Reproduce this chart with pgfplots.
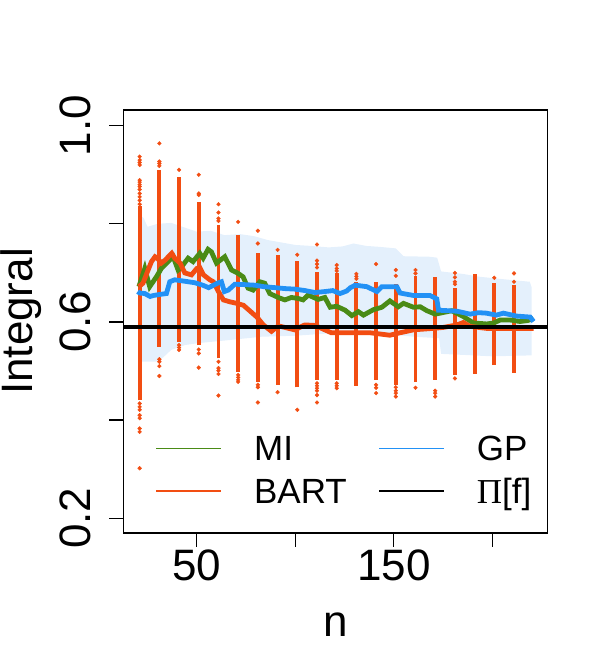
\documentclass[border=0pt]{standalone}
\usepackage{fontspec}
\setmainfont{Liberation Sans}
\newfontfamily\serifgreek{Liberation Serif}
\usepackage{pgfplots}
\pgfplotsset{compat=1.18}
\definecolor{mi}{HTML}{4A8B16}
\definecolor{bart}{HTML}{F24D12}
\definecolor{gp}{HTML}{2291F5}
\definecolor{band}{HTML}{E4F0FC}
\newcommand{\bigfont}{\fontsize{44bp}{48bp}\selectfont}
\newcommand{\legfont}{\fontsize{35bp}{40bp}\selectfont}

\begin{document}
\begin{tikzpicture}
\path[use as bounding box] (0,0) rectangle (592bp,645bp);
\begin{axis}[
  at={(123.5bp,112bp)}, anchor=south west,
  scale only axis, width=424.2bp, height=423bp,
  xmin=12.8, xmax=228.1, ymin=0.170, ymax=1.032,
  axis line style={line width=1.5bp},
  tick align=outside, xtick pos=bottom, ytick pos=left,
  major tick length=14bp,
  tick style={line width=1.3bp, black},
  xtick={50,100,150,200}, xticklabels={50,,150,},
  ytick={0.2,0.4,0.6,0.8,1.0}, yticklabels={0.2,,0.6,,1.0},
  xticklabel style={font=\bigfont, anchor=north, inner sep=0pt},
  xticklabel shift=3bp,
  yticklabel style={font=\bigfont, rotate=90, anchor=south, inner sep=0pt},
  yticklabel shift=18bp,
  xlabel={n}, ylabel={Integral},
  xlabel style={font=\bigfont, at={([yshift=-103.7bp]axis description cs:0.5,0)}, anchor=base, inner sep=0pt},
  ylabel style={font=\bigfont, at={([xshift=-90.5bp]axis description cs:0,0.5)}, anchor=base, inner sep=0pt},
  legend columns=2, legend cell align=left,
  legend style={draw=none, fill=none, inner sep=0pt, outer sep=0pt,
    at={(axis description cs:0.0759,0.2298)}, anchor=north west,
    row sep=17.7bp, font=\legfont,
    nodes={inner sep=0pt, text height=25bp, text depth=0pt},
    /tikz/every odd column/.append style={column sep=32bp},
    /tikz/every even column/.append style={column sep=31.7bp}},
  legend image code/.code={\draw[#1] (0bp,0bp) -- (65bp,0bp);},
]
\addlegendimage{mi, line width=1.4bp}
\addlegendentry{MI}
\addlegendimage{gp, line width=1.4bp}
\addlegendentry{GP}
\addlegendimage{bart, line width=1.4bp}
\addlegendentry{BART}
\addlegendimage{black, line width=1.4bp}
\addlegendentry{{\serifgreek Π}[f]}

% GP credible band
\addplot[fill=band, draw=none, forget plot] coordinates {
(21,0.818) (23,0.812) (25,0.794) (30,0.800) (37,0.802) (42,0.795) (50,0.784)
(57,0.786) (64,0.777) (72,0.779) (79,0.775) (86,0.767) (93,0.762) (100,0.757)
(108,0.755) (117,0.752) (124,0.754) (129.5,0.760) (136,0.755) (143,0.753)
(151,0.750) (155,0.734) (168,0.733) (172,0.731) (174,0.703) (185,0.698)
(194,0.692) (206,0.687) (219,0.682) (220,0.670)
(220,0.532) (200,0.530) (185,0.533) (174,0.535) (173,0.567) (160,0.570)
(150,0.574) (130,0.576) (118,0.577) (100,0.572) (83,0.570) (66,0.563)
(51,0.557) (44,0.553) (37,0.543) (33,0.528) (30,0.519) (21,0.519)};

% BART posterior draws: dense part of each column
\addplot[bart, line width=3.9bp, unbounded coords=jump, forget plot] coordinates {
(21,0.441) (21,0.836) (21,nan)
(31,0.550) (31,0.910) (31,nan)
(41,0.560) (41,0.896) (41,nan)
(51,0.553) (51,0.845) (51,nan)
(61,0.526) (61,0.798) (61,nan)
(71,0.499) (71,0.777) (71,nan)
(81,0.478) (81,0.740) (81,nan)
(91,0.472) (91,0.737) (91,nan)
(101,0.467) (101,0.725) (101,nan)
(111,0.482) (111,0.702) (111,nan)
(121,0.482) (121,0.699) (121,nan)
(131,0.470) (131,0.682) (131,nan)
(141,0.482) (141,0.682) (141,nan)
(151,0.472) (151,0.677) (151,nan)
(161,0.478) (161,0.694) (161,nan)
(171,0.482) (171,0.691) (171,nan)
(181,0.492) (181,0.669) (181,nan)
(191,0.495) (191,0.698) (191,nan)
(201,0.512) (201,0.679) (201,nan)
(211,0.497) (211,0.675)};

% BART posterior draws: sparse tails
\addplot[only marks, mark=*, mark size=1.9bp, bart, forget plot] coordinates {
(21,0.937) (21,0.930) (21,0.925) (21,0.920) (21,0.889) (21,0.885) (21,0.880)
(21,0.876) (21,0.870) (21,0.862) (21,0.855) (21,0.848) (21,0.840)
(21,0.434) (21,0.427) (21,0.421) (21,0.410) (21,0.404) (21,0.383) (21,0.376) (21,0.302)
(31,0.964) (31,0.927) (31,0.923) (31,0.918) (31,0.524) (31,0.519) (31,0.510) (31,0.490)
(41,0.910) (41,0.553) (41,0.548) (41,0.543)
(51,0.900) (51,0.862) (51,0.859) (51,0.544) (51,0.536) (51,0.507)
(61,0.840) (61,0.823) (61,0.811) (61,0.806) (61,0.519) (61,0.506) (61,0.501) (61,0.494) (61,0.450)
(71,0.804) (71,0.492) (71,0.487) (71,0.482) (71,0.478)
(81,0.786) (81,0.760) (81,0.472) (81,0.467) (81,0.436)
(91,0.747) (91,0.457)
(101,0.737) (101,0.421)
(111,0.758) (111,0.725) (111,0.718) (111,0.711) (111,0.475) (111,0.470) (111,0.465) (111,0.460) (111,0.451) (111,0.436)
(121,0.716) (121,0.709) (121,0.704) (121,0.475) (121,0.470) (121,0.465)
(131,0.698) (131,0.693) (131,0.688)
(141,0.718) (141,0.472) (141,0.466) (141,0.455)
(151,0.706) (151,0.694) (151,0.467) (151,0.460) (151,0.455) (151,0.448)
(161,0.706) (161,0.699) (161,0.466)
(171,0.460) (171,0.455) (171,0.448)
(181,0.700) (181,0.691) (181,0.682) (181,0.677) (181,0.485)
(201,0.690)
(211,0.699) (211,0.682)};

% MI
\addplot[mi, line width=4.8bp, forget plot] coordinates {
(20.6,0.672) (23.6,0.709) (26.1,0.672) (29.5,0.692) (32,0.709) (35.4,0.723)
(38,0.733) (40.5,0.706) (42.2,0.712) (45.6,0.730) (48.1,0.723) (51.5,0.740)
(53.2,0.730) (55.7,0.748) (57.4,0.743) (60,0.720) (64.2,0.733) (67.6,0.706)
(71,0.699) (73.5,0.692) (76,0.669) (78.6,0.665) (82,0.682) (84.5,0.679)
(87,0.658) (91.3,0.650) (94.7,0.645) (98,0.650) (101.4,0.648) (104,0.645)
(106.5,0.655) (111.6,0.646) (115,0.650) (117.7,0.630) (121,0.632) (125.3,0.624)
(128.7,0.613) (132,0.621) (134.6,0.614) (139.6,0.625) (143.9,0.630) (148,0.643)
(152.3,0.631) (154.9,0.638) (160,0.630) (163.4,0.631) (166.8,0.623) (171,0.616)
(173.5,0.618) (179.4,0.623) (185.3,0.611) (190.4,0.598) (197.2,0.596)
(200.6,0.598) (204,0.604) (209,0.604) (214.1,0.601) (218,0.603) (220.9,0.607)};

% BART
\addplot[bart, line width=4.8bp, forget plot] coordinates {
(20.6,0.672) (22.7,0.679) (25.3,0.706) (27,0.723) (28.8,0.733) (30,0.730)
(32,0.720) (33.9,0.726) (36.3,0.736) (37.3,0.740) (38.8,0.730) (41.5,0.720)
(43.9,0.700) (47.3,0.696) (50,0.709) (51.5,0.711) (53.4,0.696) (56.6,0.686)
(58.4,0.682) (61,0.662) (63.5,0.645) (66.9,0.641) (70.3,0.638) (73.7,0.634)
(77.1,0.622) (80.5,0.610) (83.8,0.594) (87.9,0.581) (91.3,0.592) (94.7,0.589)
(99.7,0.584) (104.8,0.594) (109.9,0.593) (115,0.584) (118.3,0.578) (127.8,0.578)
(138,0.578) (148,0.573) (152,0.577) (160,0.584) (170,0.587) (175.2,0.589)
(182,0.594) (185.3,0.599) (188.7,0.591) (197,0.587) (205,0.587) (220.9,0.587)};

% GP
\addplot[gp, line width=4.8bp, forget plot] coordinates {
(20,0.662) (21,0.659) (23.6,0.658) (26.3,0.652) (28,0.654) (31,0.656)
(34.6,0.658) (36.3,0.682) (38.8,0.686) (44,0.683) (49,0.680) (53,0.675)
(56,0.670) (61,0.680) (62.5,0.682) (64,0.662) (66,0.665) (69.3,0.677)
(75,0.676) (79.4,0.675) (84,0.672) (89.6,0.670) (95,0.668) (99.7,0.667)
(105,0.664) (110,0.660) (115,0.662) (119,0.664) (122.7,0.658) (126,0.663)
(128,0.670) (130.4,0.675) (136.3,0.672) (141.4,0.662) (143.9,0.672)
(151.5,0.672) (153.2,0.659) (160,0.654) (168.4,0.654) (171.8,0.647)
(172.7,0.624) (182,0.622) (188.7,0.616) (193,0.619) (197,0.618) (202,0.614)
(205.6,0.618) (212.4,0.612) (219.2,0.610) (220.9,0.601)};

% true value
\addplot[black, line width=4bp, forget plot] coordinates {(12.8,0.589) (228.1,0.589)};
\end{axis}
\end{tikzpicture}
\end{document}
